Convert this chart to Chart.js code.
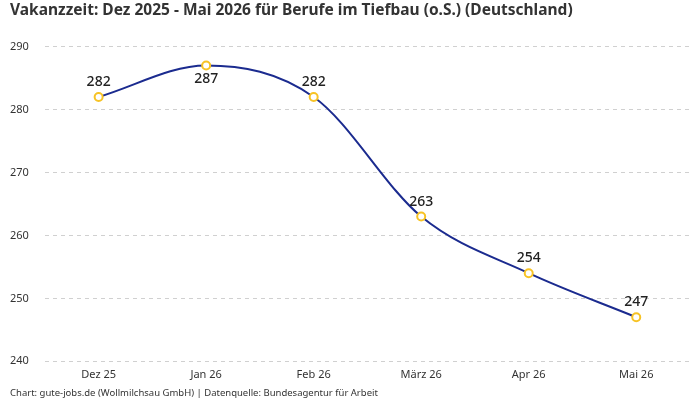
<!DOCTYPE html>
<html lang="de">
<head>
  <meta charset="UTF-8">
  <title>Vakanzzeit Tiefbau</title>
  <script src="https://cdn.jsdelivr.net/npm/chart.js"></script>
  <style>
    html, body { margin: 0; padding: 0; background: #fff; }
    #wrap { width: 700px; height: 400px; position: relative; }
  </style>
</head>
<body>
  <div id="wrap"><canvas id="chart"></canvas></div>
  <script>
    const months = ['Dez 25', 'Jan 26', 'Feb 26', 'März 26', 'Apr 26', 'Mai 26'];
    const vakanzzeit = [282, 287, 282, 263, 254, 247];
    const yTicks = [240, 250, 260, 270, 280, 290];

    const titleText = 'Vakanzzeit: Dez 2025 - Mai 2026 für Berufe im Tiefbau (o.S.) (Deutschland)';
    const sourceText = 'Chart: gute-jobs.de (Wollmilchsau GmbH) | Datenquelle: Bundesagentur für Arbeit';
    const fontFamily = "'Noto Sans', 'DejaVu Sans', sans-serif";

    // labels above the points, except where the curve peaks
    const labelBelow = [false, true, false, false, false, false];

    const valueLabels = {
      id: 'valueLabels',
      afterDatasetsDraw(chart) {
        const ctx = chart.ctx;
        const meta = chart.getDatasetMeta(0);
        ctx.save();
        ctx.font = '500 14px ' + fontFamily;
        ctx.fillStyle = '#222';
        ctx.textAlign = 'center';
        ctx.textBaseline = 'middle';
        meta.data.forEach((pt, i) => {
          const dy = labelBelow[i] ? 14 : -15;
          ctx.fillText(String(vakanzzeit[i]), pt.x, pt.y + dy);
        });
        ctx.restore();
      }
    };

    new Chart(document.getElementById('chart'), {
      type: 'line',
      data: {
        labels: months,
        datasets: [{
          data: vakanzzeit,
          borderColor: '#1b2b8f',
          borderWidth: 2,
          cubicInterpolationMode: 'monotone',
          pointRadius: 4,
          pointBorderWidth: 2,
          pointBackgroundColor: '#fff',
          pointBorderColor: '#f7c325',
          fill: false
        }]
      },
      options: {
        responsive: true,
        maintainAspectRatio: false,
        animation: false,
        layout: { padding: { left: 10, right: 10, top: 0, bottom: 0 } },
        plugins: {
          legend: { display: false },
          tooltip: { enabled: false },
          title: {
            display: true,
            text: titleText,
            align: 'start',
            color: '#333',
            font: { family: fontFamily, size: 15.5, weight: 'bold' },
            padding: { top: 1, bottom: 27 }
          },
          subtitle: {
            display: true,
            position: 'bottom',
            text: sourceText,
            align: 'start',
            color: '#333',
            font: { family: fontFamily, size: 9.5, lineHeight: 1.0 },
            padding: { top: 0, bottom: 2 }
          }
        },
        scales: {
          x: {
            offset: true,
            grid: { display: false, drawTicks: false },
            border: { display: false },
            ticks: {
              color: '#333',
              font: { family: fontFamily, size: 11 },
              padding: 7
            }
          },
          y: {
            min: yTicks[0],
            max: yTicks[yTicks.length - 1],
            afterBuildTicks: axis => { axis.ticks = yTicks.map(v => ({ value: v })); },
            grid: { color: '#d0d0d0', drawTicks: false },
            border: { display: false, dash: [4, 4] },
            ticks: {
              color: '#333',
              font: { family: fontFamily, size: 11 },
              padding: 8,
              crossAlign: 'far'
            }
          }
        }
      },
      plugins: [valueLabels]
    });
  </script>
</body>
</html>
